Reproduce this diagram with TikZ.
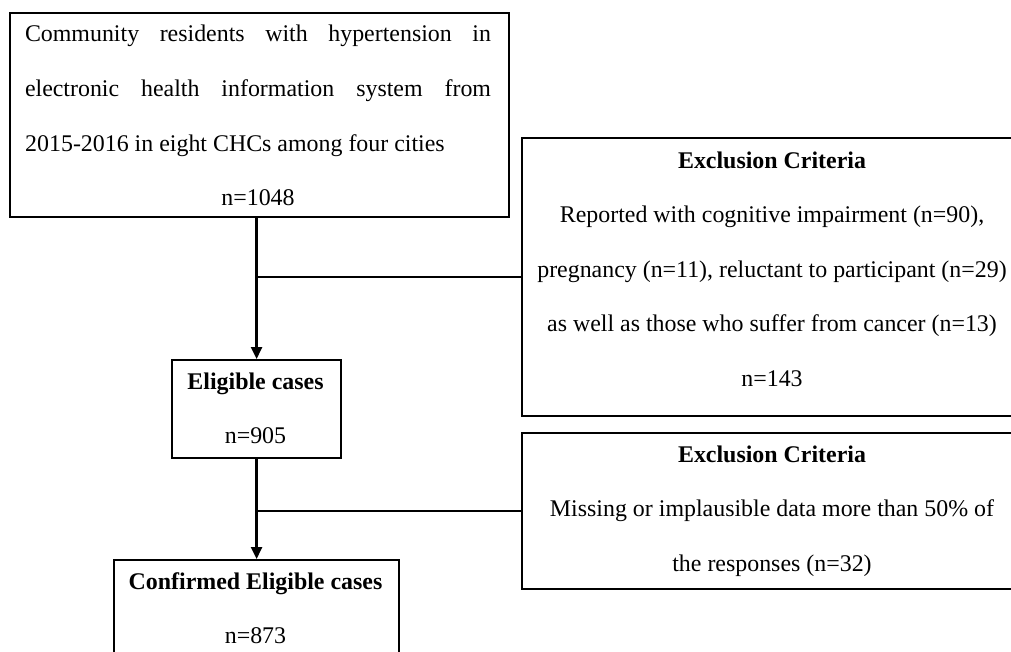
\documentclass[tikz,border=0pt]{standalone}
\usepackage{fontspec}
\setmainfont{Liberation Serif}
\usetikzlibrary{arrows.meta}
\begin{document}
\begin{tikzpicture}[x=1pt,y=-1pt,
  box/.style={draw, line width=2.2pt, inner sep=0pt, anchor=north west},
  txt/.style={anchor=base, inner sep=0pt, font=\fontsize{23.9}{28}\selectfont},
  hd/.style={txt, font=\fontsize{23.9}{28}\selectfont\bfseries},
  ln/.style={line width=2.4pt},
  arr/.style={line width=2.4pt, -{Triangle[width=11pt,length=12pt]}}]
\useasboundingbox (0,0) rectangle (1011,651);
\clip (0,0) rectangle (1011,651);
% boxes
\node[box, minimum width=499pt, minimum height=204pt] (top) at (9,12) {};
\node[box, minimum width=169pt, minimum height=98pt] (elig) at (171,359) {};
\node[box, minimum width=285pt, minimum height=130pt] (conf) at (113,559) {};
\node[box, minimum width=530pt, minimum height=278pt] (ex1) at (521,137) {};
\node[box, minimum width=530pt, minimum height=156pt] (ex2) at (521,432) {};
% top box text
\node[txt] (t1a) at (258,41.5) {\makebox[466pt][s]{Community residents with hypertension in}};
\node[txt] (t1b) at (258,96.5) {\makebox[466pt][s]{electronic health information system from}};
\node[txt, anchor=base west] (t1c) at (25,151.5) {2015-2016 in eight CHCs among four cities};
\node[txt] (t1d) at (258,205) {n=1048};
% exclusion 1
\node[hd] (e1h) at (772,168) {Exclusion Criteria};
\node[txt] (e1a) at (772,222.5) {Reported with cognitive impairment (n=90),};
\node[txt] (e1b) at (772,277) {pregnancy (n=11), reluctant to participant (n=29)};
\node[txt] (e1c) at (772,331.5) {as well as those who suffer from cancer (n=13)};
\node[txt] (e1d) at (772,386) {n=143};
% eligible
\node[hd] (elh) at (255.5,389) {Eligible cases};
\node[txt] (eln) at (255.5,443) {n=905};
% exclusion 2
\node[hd] (e2h) at (772,462) {Exclusion Criteria};
\node[txt] (e2a) at (772,516.5) {Missing or implausible data more than 50\% of};
\node[txt] (e2b) at (772,571.5) {the responses (n=32)};
% confirmed
\node[hd] (cfh) at (255.5,589) {Confirmed Eligible cases};
\node[txt] (cfn) at (255.5,643) {n=873};
% connectors
\coordinate (j1) at (elig.north |- ex1.west);
\coordinate (j2) at (elig.south |- ex2.west);
\draw[arr] (top.south -| elig.north) -- (elig.north);
\draw[ln] (j1) -- (ex1.west);
\draw[arr] (elig.south) -- (conf.north);
\draw[ln] (j2) -- (ex2.west);
\end{tikzpicture}
\end{document}
